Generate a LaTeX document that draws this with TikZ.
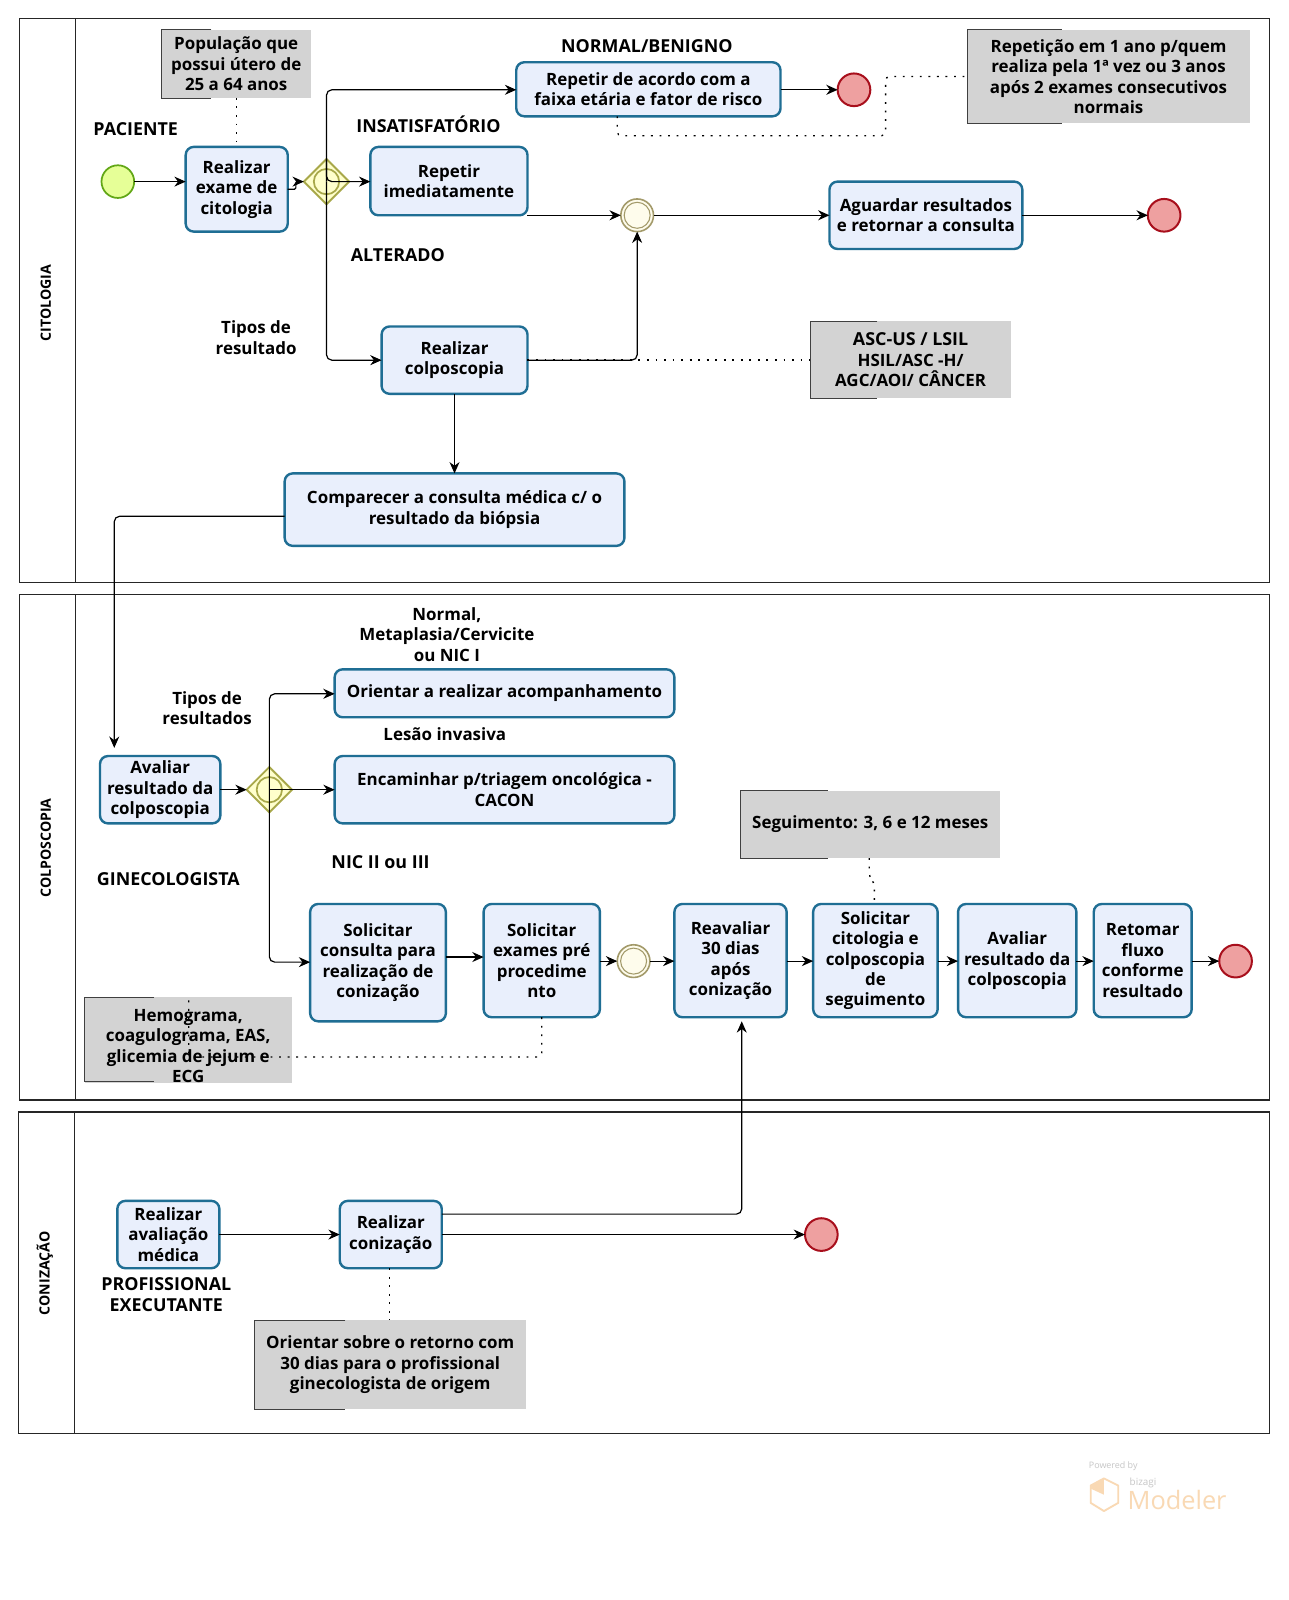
\documentclass[tikz,border=0pt]{standalone}
\usepackage{fontspec}
\setmainfont{Open Sans}
\newfontfamily\plainfont{Open Sans}
\usetikzlibrary{arrows.meta,shapes.geometric}
\definecolor{taskfill}{HTML}{E9EFFC}
\definecolor{taskline}{HTML}{1F6E94}
\definecolor{startfill}{HTML}{E6FF97}
\definecolor{startline}{HTML}{62A716}
\definecolor{endfill}{HTML}{EEA0A0}
\definecolor{endline}{HTML}{A80F1C}
\definecolor{gatefill}{HTML}{FFFFCC}
\definecolor{gateline}{HTML}{A8A84A}
\definecolor{midfill}{HTML}{FEFCEC}
\definecolor{midline}{HTML}{A39A6A}
\definecolor{notefill}{HTML}{D3D3D3}
\definecolor{markcol}{HTML}{F9D9B4}
\definecolor{markgray}{HTML}{C6C6C6}
\newcommand{\txtsize}{\fontsize{12.7}{15.3}\bfseries\selectfont}
\newcommand{\capsz}{\fontsize{13.4}{15.3}\selectfont}
\tikzset{
  taskbox/.style={draw=taskline,fill=taskfill,line width=1.8pt,rounded corners=6pt,align=center,inner sep=0pt,outer sep=0pt,font=\txtsize},
  notebox/.style={fill=notefill,align=center,inner sep=0pt,outer sep=0pt,font=\txtsize},
  lbl/.style={align=center,inner sep=0pt,font=\txtsize},
  caplbl/.style={lbl,font=\txtsize\capsz},
  pooltitle/.style={rotate=90,inner sep=0pt,font=\fontsize{10.6}{12}\bfseries\selectfont},
  poolline/.style={draw=black!85,line width=1pt},
  startev/.style={circle,draw=startline,fill=startfill,line width=1.3pt,minimum size=24.5pt,inner sep=0pt,outer sep=0pt},
  endev/.style={circle,draw=endline,fill=endfill,line width=1.5pt,minimum size=24.5pt,inner sep=0pt,outer sep=0pt},
  midev/.style={circle,draw=midline,fill=midfill,line width=1.2pt,minimum size=24.5pt,inner sep=0pt,outer sep=0pt},
  midin/.style={circle,draw=midline,fill=midfill,line width=.8pt,minimum size=19.5pt,inner sep=0pt},
  gate/.style={diamond,aspect=1,draw=gateline,fill=gatefill,line width=1.4pt,minimum width=34pt,minimum height=34pt,inner sep=0pt,outer sep=0pt},
  gatein/.style={circle,draw=gateline,fill=gatefill,line width=1.3pt,minimum size=19pt,inner sep=0pt},
  flow/.style={draw=black,line width=.9pt,rounded corners=4pt,-{Stealth[length=8.5pt,width=7.5pt]}},
  assoc/.style={draw=black,line width=1pt,dash pattern=on 1.4pt off 5pt,rounded corners=3pt},
  notemark/.style={draw=black!75,line width=.6pt},
}
% #1 name, #2 x1, #3 y1, #4 x2, #5 y2, #6 text
\newcommand{\taskn}[6]{\node[taskbox,minimum width={(#4-#2)*0.7651pt},minimum height={(#5-#3)*0.7651pt}] (#1) at ({(#2+#4)/2},{(#3+#5)/2}) {#6};}
\newcommand{\noten}[6]{\node[notebox,minimum width={(#4-#2)*0.7651pt},minimum height={(#5-#3)*0.7651pt}] (#1) at ({(#2+#4)/2},{(#3+#5)/2}) {#6};
  \draw[notemark] ({#2+(#4-#2)*0.335},#3) -- (#2,#3) -- (#2,#5) -- ({#2+(#4-#2)*0.335},#5);}
\begin{document}
\begin{tikzpicture}[x=0.7651pt,y=-0.7651pt]
\useasboundingbox[fill=white] (0,0) rectangle (1262.5,1568.2);
% pools
\draw[poolline] (19,18) rectangle (1244,571) (74,18) -- (74,571);
\draw[poolline] (19,583) rectangle (1244,1078) (74,583) -- (74,1078);
\draw[poolline] (18,1090) rectangle (1244,1405) (73,1090) -- (73,1405);
\node[pooltitle] (p1) at (45,297) {CITOLOGIA};
\node[pooltitle] (p2) at (45,831) {COLPOSCOPIA};
\node[pooltitle] (p3) at (44,1248) {CONIZAÇÃO};
% notes
\noten{n1}{158}{29}{305}{96}{População que\\possui útero de\\25 a 64 anos}
\noten{n2}{948}{29}{1225}{121}{Repetição em 1 ano p/quem\\realiza pela 1ª vez ou 3 anos\\após 2 exames consecutivos\\normais}
\noten{n3}{794}{315}{991}{390}{\capsz ASC-US / LSIL\\HSIL/ASC -H/\\AGC/AOI/ CÂNCER}
\noten{n4}{726}{775}{980}{841}{Seguimento: 3, 6 e 12 meses}
\noten{n5}{83}{978}{286}{1060}{\rule{0pt}{18.7pt}Hemograma,\\coagulograma, EAS,\\glicemia de jejum e\\ECG}
\noten{n6}{249}{1294}{516}{1381}{Orientar sobre o retorno com\\30 dias para o profissional\\ginecologista de origem}
% tasks
\taskn{et}{182}{144}{282}{227}{Realizar\\exame de\\citologia}
\taskn{rep}{363}{144}{517}{211}{Repetir\\imediatamente}
\taskn{rf}{506}{61}{765}{114}{Repetir de acordo com a\\faixa etária e fator de risco}
\taskn{ag}{813}{178}{1002}{244}{Aguardar resultados\\e retornar a consulta}
\taskn{co}{374}{320}{517}{386}{Realizar\\colposcopia}
\taskn{cp}{279}{464}{612}{535}{Comparecer a consulta médica c/ o\\resultado da biópsia}
\taskn{oa}{328}{656}{661}{703}{Orientar a realizar acompanhamento}
\taskn{en}{328}{741}{661}{807}{Encaminhar p/triagem oncológica -\\CACON}
\taskn{av}{98}{741}{216}{807}{Avaliar\\resultado da\\colposcopia}
\taskn{sc}{304}{886}{437}{1001}{Solicitar\\consulta para\\realização de\\conização}
\taskn{se}{474}{886}{588}{997}{Solicitar\\exames pré\\procedime\\nto}
\taskn{re}{661}{886}{771}{997}{Reavaliar\\30 dias\\após\\conização}
\taskn{sg}{797}{886}{919}{997}{Solicitar\\citologia e\\colposcopia\\de\\seguimento}
\taskn{a2}{939}{886}{1055}{997}{Avaliar\\resultado da\\colposcopia}
\taskn{rt}{1072}{886}{1168}{997}{Retomar\\fluxo\\conforme\\resultado}
\taskn{am}{115}{1177}{215}{1243}{Realizar\\avaliação\\médica}
\taskn{cz}{333}{1177}{433}{1243}{Realizar\\conização}
% events
\node[startev] (s1) at (115.5,178) {};
\node[endev] (e1) at (837,88) {};
\node[endev] (e2) at (1141,211) {};
\node[endev] (e3) at (1211,942) {};
\node[endev] (e4) at (805,1210) {};
\node[midev] (m1) at (624.5,211) {};
\node[midin] (m1i) at (624.5,211) {};
\node[midev] (m2) at (621,942) {};
\node[midin] (m2i) at (621,942) {};
% gateways
\node[gate] (g1) at (320,178) {};
\node[gatein] (g1i) at (320,178) {};
\node[gate] (g2) at (264,774) {};
\node[gatein] (g2i) at (264,774) {};
\coordinate (c1) at (112,733);
\coordinate (c2) at (727,1001);
% labels
\node[caplbl] (l1) at (133,127) {PACIENTE};
\node[caplbl] (l2) at (634,45) {NORMAL/BENIGNO};
\node[caplbl] (l3) at (420,122) {INSATISFATÓRIO};
\node[caplbl] (l4) at (390,250) {ALTERADO};
\node[lbl] (l5) at (251,331) {Tipos de\\resultado};
\node[lbl] (l6) at (438,622) {Normal,\\Metaplasia/Cervicite\\ou NIC I};
\node[lbl] (l7) at (203,694) {Tipos de\\resultados};
\node[lbl] (l8) at (436,720) {Lesão invasiva};
\node[caplbl] (l9) at (373,845) {NIC II ou III};
\node[caplbl] (l10) at (165,862) {GINECOLOGISTA};
\node[caplbl] (l11) at (163,1269) {PROFISSIONAL\\EXECUTANTE};
% flows
\draw[flow] (s1.east) -- (et.west |- s1);
\draw[flow,rounded corners=1pt] (et.east) -- ++(8,0) |- (g1.west);
\draw[flow] (g1.center) |- (rf.west |- e1);
\draw[flow] (g1.north) -- (g1.center) -- (rep.west |- g1);
\draw[flow] (g1.center) |- (co.west);
\draw[flow] (rep.east |- m1) -- (m1.west);
\draw[flow] (m1.east) -- (ag.west |- m1);
\draw[flow] (ag.east |- m1) -- (e2.west);
\draw[flow] (rf.east |- e1) -- (e1.west);
\draw[flow] (co.east) -| (m1.south);
\draw[flow] (co.south -| cp.north) -- (cp.north);
\draw[flow] (cp.west |- 279,506) -| (c1);
\draw[flow] (av.east |- g2) -- (g2.west);
\draw[flow] (g2.center) |- (oa.west |- 328,680);
\draw[flow] (g2.center) -- (en.west |- g2);
\draw[flow] (g2.center) |- (sc.west |- 304,943);
\draw[flow] (sc.east |- 437,938) -- (se.west |- 474,938);
\draw[flow] (se.east |- m2) -- (m2.west);
\draw[flow] (m2.east) -- (re.west |- m2);
\draw[flow] (re.east |- m2) -- (sg.west |- m2);
\draw[flow] (sg.east |- m2) -- (a2.west |- m2);
\draw[flow] (a2.east |- m2) -- (rt.west |- m2);
\draw[flow] (rt.east |- m2) -- (e3.west);
\draw[flow] (am.east |- e4) -- (cz.west |- e4);
\draw[flow] (cz.east |- e4) -- (e4.west);
\draw[flow] (cz.east |- 433,1190) -| (c2);
% associations
\draw[assoc] (n1.south -| 232,96) -- (232,144 -| et.north);
\draw[assoc] (rf.south -| 605,114) -- (605,133) -- (868,133) -- (868,75) -- (n2.west |- 948,75);
\draw[assoc] (co.east) -- (n3.west |- co);
\draw[assoc] (n4.south -| 852,841) -- (852,860) -- (857,865) -- (857,886);
\draw[assoc] (se.south -| 531,997) -- (531,1036) -- (185,1036) -- (185,980);
\draw[assoc] (cz.south -| 382,1243) -- (382,1294);
% watermark
\draw[markcol,line width=1.4pt,line join=round] (1082,1449) -- (1096,1456) -- (1096,1473) -- (1082,1481) -- (1069,1473) -- (1069,1456) -- cycle;
\fill[markcol] (1082,1449) -- (1069,1456) -- (1069,1459) -- (1082,1465) -- cycle;
\node[anchor=west,inner sep=0pt,text=markgray,font=\plainfont\fontsize{6.7}{8}\selectfont] (w1) at (1067,1437) {Powered by};
\node[anchor=west,inner sep=0pt,text=markgray,font=\plainfont\fontsize{7.4}{8}\selectfont] (w2) at (1107,1453) {bizagi};
\node[anchor=west,inner sep=0pt,text=markcol,font=\plainfont\fontsize{19}{20}\selectfont] (w3) at (1105,1470) {Modeler};
\end{tikzpicture}
\end{document}
